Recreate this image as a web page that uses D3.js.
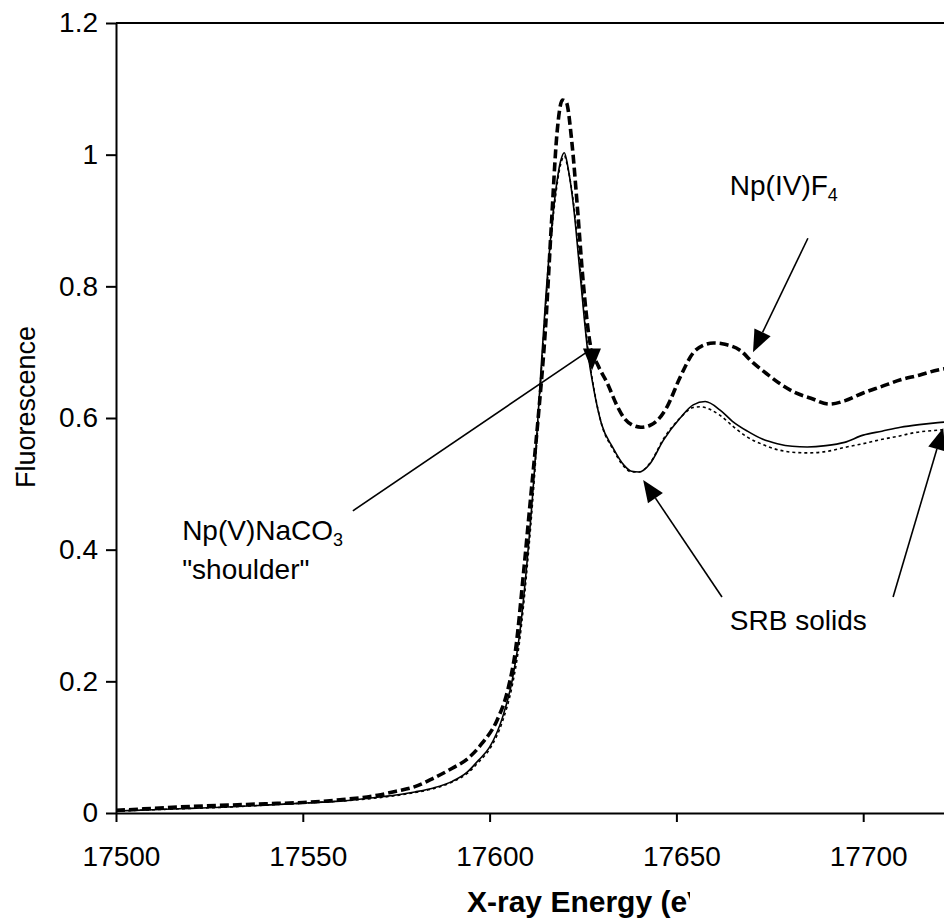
<!DOCTYPE html>
<html>
<head>
<meta charset="utf-8">
<script src="https://cdn.jsdelivr.net/npm/d3@7"></script>
<style>
  html, body { margin: 0; padding: 0; background: #fff; }
  svg { display: block; font-family: "Liberation Sans", Arial, Helvetica, sans-serif; }
</style>
</head>
<body>
<svg id="chart" width="944" height="920"></svg>
<script>
// ---------- data ----------
const xTicks = [17500, 17550, 17600, 17650, 17700];
const yTicks = [0, 0.2, 0.4, 0.6, 0.8, 1.0, 1.2];

// Np(IV)F4 reference (heavy dashed line)
const energyF4 = [17500, 17510, 17520, 17530, 17540, 17550, 17560, 17570, 17575, 17580, 17585, 17590, 17594, 17598, 17602, 17605, 17607, 17609, 17611, 17613, 17615, 17616.5, 17618, 17619.5, 17620.5, 17622, 17623.5, 17625, 17627, 17629, 17631.5, 17634, 17636, 17638, 17640.5, 17643, 17645, 17647.5, 17651, 17654.5, 17657, 17660, 17663, 17667, 17670.5, 17674, 17678, 17682, 17686, 17691, 17695, 17700, 17705, 17710, 17715, 17720, 17725];
const valueF4  = [0.004, 0.007, 0.010, 0.012, 0.014, 0.016, 0.020, 0.027, 0.033, 0.040, 0.053, 0.068, 0.082, 0.106, 0.141, 0.190, 0.250, 0.360, 0.480, 0.600, 0.740, 0.890, 1.030, 1.083, 1.080, 1.020, 0.920, 0.810, 0.710, 0.680, 0.653, 0.620, 0.600, 0.590, 0.586, 0.589, 0.597, 0.617, 0.662, 0.699, 0.710, 0.714, 0.712, 0.703, 0.684, 0.668, 0.651, 0.638, 0.630, 0.621, 0.626, 0.638, 0.648, 0.658, 0.665, 0.673, 0.677];

// SRB solids, sample A (thin solid line)
const energySrbA = [17500, 17510, 17520, 17530, 17540, 17550, 17560, 17570, 17580, 17585, 17590, 17594, 17597, 17600, 17603.5, 17606, 17608, 17610, 17612, 17613.5, 17615, 17617.5, 17619, 17620, 17621, 17622.5, 17624.2, 17626.3, 17628, 17630, 17633, 17636, 17638, 17640, 17643, 17646.5, 17651, 17654.5, 17657.7, 17661.7, 17665, 17669, 17673, 17677, 17681, 17685, 17690, 17695, 17700, 17705, 17710, 17715, 17720, 17725];
const valueSrbA  = [0.003, 0.005, 0.007, 0.009, 0.012, 0.015, 0.018, 0.024, 0.032, 0.038, 0.048, 0.062, 0.080, 0.100, 0.146, 0.200, 0.270, 0.380, 0.520, 0.650, 0.780, 0.936, 0.990, 1.003, 0.980, 0.920, 0.820, 0.700, 0.640, 0.590, 0.555, 0.528, 0.519, 0.518, 0.531, 0.566, 0.600, 0.620, 0.625, 0.612, 0.595, 0.580, 0.568, 0.561, 0.557, 0.556, 0.558, 0.563, 0.574, 0.580, 0.586, 0.590, 0.593, 0.595];

// SRB solids, sample B (thin dotted line)
const energySrbB = [17500, 17510, 17520, 17530, 17540, 17550, 17560, 17570, 17580, 17585, 17590, 17594, 17597, 17600, 17603.5, 17606, 17608, 17610, 17612, 17613.5, 17615, 17617.5, 17619, 17620, 17621, 17622.5, 17624.2, 17626.3, 17628, 17630, 17633, 17636, 17638, 17640, 17643, 17646.5, 17651, 17654.5, 17656.3, 17661.7, 17665, 17669, 17673, 17677.7, 17681, 17685, 17690, 17695.6, 17700, 17704.5, 17710, 17713, 17721, 17725];
const valueSrbB  = [0.003, 0.005, 0.007, 0.009, 0.012, 0.015, 0.018, 0.023, 0.031, 0.037, 0.047, 0.060, 0.077, 0.097, 0.140, 0.192, 0.260, 0.370, 0.510, 0.640, 0.770, 0.930, 0.985, 0.998, 0.978, 0.925, 0.830, 0.705, 0.642, 0.590, 0.553, 0.526, 0.518, 0.518, 0.532, 0.568, 0.600, 0.616, 0.617, 0.604, 0.588, 0.571, 0.560, 0.551, 0.548, 0.547, 0.549, 0.556, 0.561, 0.567, 0.573, 0.577, 0.582, 0.584];

// annotation texts and arrows (positions in data units)
const labelF4    = { e: 17664.3, v: 0.939, main: "Np(IV)F", sub: "4" };
const labelNaCO3 = { e: 17517.7, v: 0.415, main: "Np(V)NaCO", sub: "3" };
const labelShoulder = { e: 17517.7, v: 0.355, text: "\"shoulder\"" };
const labelSRB   = { e: 17664.3, v: 0.278, text: "SRB solids" };
const arrowFromE = [17685.2, 17563.4, 17662.2, 17708.0];
const arrowFromV = [0.873, 0.459, 0.328, 0.328];
const arrowToE   = [17670.5, 17627.4, 17641.1, 17721.4];
const arrowToV   = [0.700, 0.672, 0.506, 0.585];
const arrowHeadDown = [false, true, false, false];

// ---------- layout ----------
const W = 944, H = 920;
const plotLeft = 116, plotBottom = 813, plotTop = 23;
const pxPer50 = 186.8;
const x = d3.scaleLinear().domain([17500, 17750]).range([plotLeft, plotLeft + 5 * pxPer50]);
const y = d3.scaleLinear().domain([0, 1.2]).range([plotBottom, plotTop]);

const svg = d3.select("#chart");
const defs = svg.append("defs");
defs.append("clipPath").attr("id", "plotClip")
  .append("rect").attr("x", plotLeft).attr("y", plotTop - 5).attr("width", W - plotLeft).attr("height", plotBottom - plotTop + 5);
defs.append("clipPath").attr("id", "titleClip")
  .append("rect").attr("x", 0).attr("y", 860).attr("width", 690).attr("height", 60);

// series
const series = [
  { e: energySrbB, v: valueSrbB, width: 1.6, dash: "3,3" },
  { e: energySrbA, v: valueSrbA, width: 1.6, dash: null },
  { e: energyF4,   v: valueF4,   width: 3.6, dash: "9,4" }
];
const line = d3.line().x(d => x(d[0])).y(d => y(d[1])).curve(d3.curveMonotoneX);
const plot = svg.append("g").attr("clip-path", "url(#plotClip)");
series.forEach(s => {
  const pts = s.e.map((e, i) => [e, s.v[i]]);
  plot.append("path").attr("d", line(pts))
    .attr("fill", "none").attr("stroke", "#000")
    .attr("stroke-width", s.width)
    .attr("stroke-dasharray", s.dash)
    .attr("stroke-linejoin", "round");
});

// axes
const fontTick = 28;
const yAxis = d3.axisLeft(y).tickValues(yTicks).tickSize(10).tickSizeOuter(0).tickPadding(8)
  .tickFormat(d => String(+d.toFixed(1)));
const gy = svg.append("g").attr("transform", `translate(${plotLeft},0)`).call(yAxis);
gy.selectAll("text").attr("font-size", fontTick).attr("fill", "#000").attr("font-family", "Liberation Sans, Arial, sans-serif");

const xAxis = d3.axisBottom(x).tickValues(xTicks).tickSize(9).tickSizeOuter(0).tickPadding(24)
  .tickFormat(d3.format("d"));
const gx = svg.append("g").attr("transform", `translate(0,${plotBottom})`).call(xAxis);
gx.selectAll("text").attr("font-size", fontTick).attr("fill", "#000").attr("dx", 5).attr("font-family", "Liberation Sans, Arial, sans-serif");

[gx, gy].forEach(g => {
  g.select(".domain").attr("stroke", "#000").attr("stroke-width", 2);
  g.selectAll(".tick line").attr("stroke", "#000").attr("stroke-width", 2);
});
// top frame line
svg.append("line").attr("x1", plotLeft).attr("x2", W).attr("y1", y(1.2)).attr("y2", y(1.2))
  .attr("stroke", "#000").attr("stroke-width", 2);

// axis titles
svg.append("text").attr("transform", `translate(35,407) rotate(-90)`)
  .attr("text-anchor", "middle").attr("font-size", 27).text("Fluorescence");
svg.append("text").attr("x", 467).attr("y", 912).attr("font-size", 30).attr("font-weight", "bold")
  .attr("clip-path", "url(#titleClip)").text("X-ray Energy (eV)");

// annotations
const annFont = 28;
function subLabel(l) {
  const t = svg.append("text").attr("x", x(l.e)).attr("y", y(l.v)).attr("font-size", annFont);
  t.append("tspan").text(l.main);
  t.append("tspan").attr("font-size", 18).attr("dy", 6).text(l.sub);
}
subLabel(labelF4);
subLabel(labelNaCO3);
svg.append("text").attr("x", x(labelShoulder.e)).attr("y", y(labelShoulder.v)).attr("font-size", annFont).text(labelShoulder.text);
svg.append("text").attr("x", x(labelSRB.e)).attr("y", y(labelSRB.v)).attr("font-size", annFont).text(labelSRB.text);

const headLen = 22, headHalf = 9;
arrowFromE.forEach((fe, i) => {
  const x1 = x(fe), y1 = y(arrowFromV[i]);
  const x2 = x(arrowToE[i]), y2 = y(arrowToV[i]);
  let ux, uy;
  if (arrowHeadDown[i]) { ux = 0; uy = 1; }
  else { const L = Math.hypot(x2 - x1, y2 - y1); ux = (x2 - x1) / L; uy = (y2 - y1) / L; }
  const bx = x2 - ux * headLen, by = y2 - uy * headLen;
  svg.append("line").attr("x1", x1).attr("y1", y1).attr("x2", bx).attr("y2", by)
    .attr("stroke", "#000").attr("stroke-width", 1.6);
  const px = -uy, py = ux;
  svg.append("polygon")
    .attr("points", [[x2, y2], [bx + px * headHalf, by + py * headHalf], [bx - px * headHalf, by - py * headHalf]].map(p => p.join(",")).join(" "))
    .attr("fill", "#000");
});
</script>
</body>
</html>
